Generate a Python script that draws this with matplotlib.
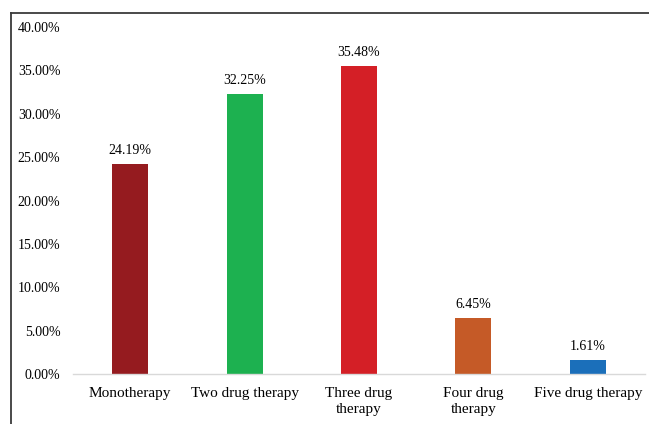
import matplotlib
matplotlib.use("Agg")
import matplotlib.pyplot as plt
from matplotlib.lines import Line2D

categories = ["Monotherapy", "Two drug therapy", "Three drug\ntherapy", "Four drug\ntherapy", "Five drug therapy"]
values = [24.19, 32.25, 35.48, 6.45, 1.61]
value_labels = ["24.19%", "32.25%", "35.48%", "6.45%", "1.61%"]
colors = ["#951b1f", "#1db150", "#d41f26", "#c55a27", "#1b6fba"]
yticks = [0, 5, 10, 15, 20, 25, 30, 35, 40]
ytick_labels = ["0.00%", "5.00%", "10.00%", "15.00%", "20.00%", "25.00%", "30.00%", "35.00%", "40.00%"]

plt.rcParams['font.family'] = ['Liberation Serif', 'DejaVu Serif']

W, H = 649, 424
fig = plt.figure(figsize=(W / 100, H / 100), dpi=100)
ax = fig.add_axes([73 / W, (H - 374) / H, (645 - 73) / W, (374 - 27) / H])

x = list(range(len(categories)))
bars = ax.bar(x, values, width=0.315, color=colors)
for xi, v, lab in zip(x, values, value_labels):
    ax.annotate(lab, (xi, v), xytext=(0, 5), textcoords="offset points",
                ha="center", va="bottom", fontsize=10)

ax.set_xlim(-0.5, len(categories) - 0.5)
ax.set_ylim(0, 40)
ax.set_yticks(yticks)
ax.set_yticklabels(ytick_labels, fontsize=10)
ax.set_xticks(x)
ax.set_xticklabels(categories, fontsize=11, linespacing=1.35)
ax.tick_params(axis="both", length=0)
ax.tick_params(axis="y", pad=9)
ax.tick_params(axis="x", pad=9)
for s in ["top", "right", "left"]:
    ax.spines[s].set_visible(False)
ax.spines["bottom"].set_color("#d9d9d9")
ax.spines["bottom"].set_linewidth(1.0)

# outer frame (left and top edges)
fig.add_artist(Line2D([11 / W, 11 / W], [0, 1 - 12.5 / H], transform=fig.transFigure, color="#3a3a3a", lw=1.3))
fig.add_artist(Line2D([11 / W, 1], [1 - 12.5 / H, 1 - 12.5 / H], transform=fig.transFigure, color="#3a3a3a", lw=1.3))

fig.savefig("out.png", dpi=100)
